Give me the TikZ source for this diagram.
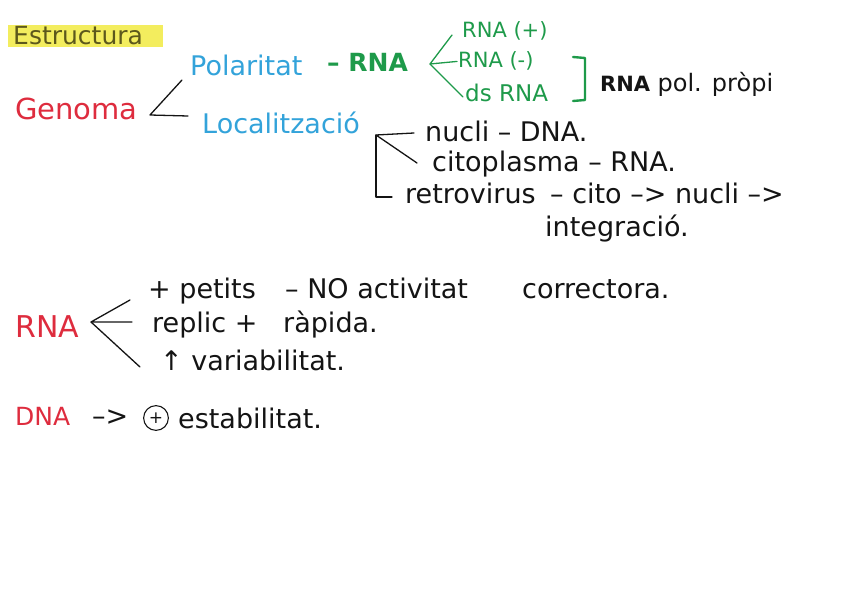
\documentclass[tikz,border=0pt]{standalone}
\usepackage{fontspec}
\setmainfont{DejaVu Sans}
\usepackage{tikz}
\usetikzlibrary{positioning}
\definecolor{ink}{HTML}{141414}
\definecolor{genred}{HTML}{DE2C3E}
\definecolor{polblue}{HTML}{33A3DA}
\definecolor{rnagreen}{HTML}{1E9A4A}
\definecolor{marker}{HTML}{F3ED5E}
\definecolor{olive}{HTML}{5C581C}

\begin{document}
\begin{tikzpicture}[
  x=1pt,
  y=-1pt,
  hand/.style={
    anchor=base west,inner sep=0pt,text=ink,
    font=\fontsize{27}{30}\selectfont
  },
  heading/.style={hand,text=olive,font=\fontsize{25}{28}\selectfont},
  keyword/.style={hand,text=genred,font=\fontsize{29}{32}\selectfont},
  subtopic/.style={hand,text=polblue},
  rnatext/.style={hand,text=rnagreen,font=\fontsize{21}{24}\selectfont},
  branch/.style={line width=1.3pt,draw=ink,line cap=round,line join=round},
  rnabranch/.style={branch,draw=rnagreen},
  ringed/.style={circle,draw=ink,line width=1.1pt,inner sep=2.5pt,text=ink,
    font=\fontsize{17}{18}\selectfont}
]
  \useasboundingbox (0,0) rectangle (848,599);

  % heading
  \path[fill=marker] (8,25) rectangle (163,47);
  \node[heading] (estructura) at (13,45) {Estructura};

  % genoma
  \node[keyword] (genoma) at (15,120) {Genoma};
  \node[subtopic] (polaritat) at (190,76) {Polaritat};
  \node[subtopic] (localitzacio) at (202,133) {Localització};
  \coordinate (gen-v) at (150,115);
  \coordinate (gen-up) at (182,80);
  \coordinate (gen-low) at (188,116);
  \draw[branch] (gen-up) -- (gen-v) -- (gen-low);

  % polaritat
  \node[rnatext,font=\fontsize{25}{27}\bfseries] (pol-rna) at (327,72) {– RNA};
  \node[rnatext] (rna-pos) at (462,38) {RNA (+)};
  \node[rnatext] (rna-neg) at (458,68) {RNA (-)};
  \node[rnatext,font=\fontsize{23}{26}\selectfont] (ds-rna) at (465,102) {ds RNA};
  \coordinate (pol-v) at (430,64);
  \coordinate (pol-up) at (452,35);
  \coordinate (pol-down) at (463,97);
  \draw[rnabranch] (pol-up) -- (pol-v) -- ([xshift=-1pt]rna-neg.west);
  \draw[rnabranch] (pol-v) -- (pol-down);
  \draw[rnabranch,line width=2.4pt] (573,57) -- (585,58) -- (585,100) -- (573,101);
  \node[hand,font=\fontsize{21}{24}\bfseries] (rna-pol) at (600,92) {RNA};
  \node[hand,font=\fontsize{24}{26}\selectfont,base right=7pt of rna-pol] (propi) {pol. pròpi};

  % localitzacio
  \node[hand] (nucli) at (425,141) {nucli – DNA.};
  \node[hand] (citoplasma) at (432,171) {citoplasma – RNA.};
  \node[hand] (retrovirus) at (405,203) {retrovirus};
  \node[hand] (cami) at (550,203) {– cito –> nucli –>};
  \node[hand] (integracio) at (545,236) {integració.};
  \coordinate (loc-v) at (376,135);
  \coordinate (loc-a) at (414,133);
  \coordinate (loc-b) at (417,163);
  \coordinate (loc-c) at (376,197);
  \coordinate (loc-d) at (392,197);
  \draw[branch] (loc-a) -- (loc-v) -- (loc-b);
  \draw[branch] (loc-v) -- (loc-c) -- (loc-d);

  % RNA
  \node[keyword,font=\fontsize{30}{32}\selectfont] (rna) at (15,337) {RNA};
  \node[hand] (petits) at (148,298) {+ petits};
  \node[hand] (activitat) at (285,298) {– NO activitat};
  \node[hand] (correctora) at (522,298) {correctora.};
  \node[hand] (replic) at (152,332) {replic +};
  \node[hand] (rapida) at (283,332) {ràpida.};
  \node[hand] (variabilitat) at (160,370) {↑ variabilitat.};
  \coordinate (rna-v) at (91,322);
  \coordinate (rna-a) at (130,300);
  \coordinate (rna-b) at (132,322);
  \coordinate (rna-c) at (140,367);
  \draw[branch] (rna-a) -- (rna-v) -- (rna-b);
  \draw[branch] (rna-v) -- (rna-c);

  % DNA
  \node[keyword,font=\fontsize{25}{27}\selectfont] (dna) at (15,425) {DNA};
  \node[hand] (fletxa) at (92,425) {–>};
  \node[ringed] (mes) at (156,418) {+};
  \node[hand] (estabilitat) at (178,428) {estabilitat.};
\end{tikzpicture}
\end{document}
